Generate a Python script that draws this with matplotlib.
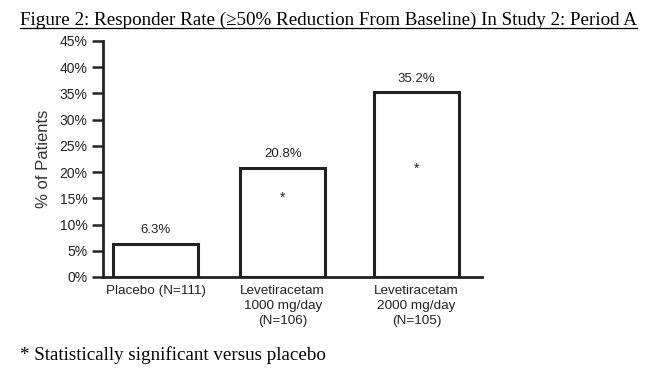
import matplotlib
matplotlib.use("Agg")
import matplotlib.pyplot as plt

categories = ["Placebo (N=111)", "Levetiracetam\n1000 mg/day\n(N=106)", "Levetiracetam\n2000 mg/day\n(N=105)"]
values = [6.3, 20.8, 35.2]
value_labels = ["6.3%", "20.8%", "35.2%"]
significant = [False, True, True]
star_levels = [None, 15.1, 20.6]
yticks = [0, 5, 10, 15, 20, 25, 30, 35, 40, 45]

plt.rcParams['font.family'] = ['Liberation Sans', 'DejaVu Sans']

fig = plt.figure(figsize=(6.58, 3.69), dpi=100)
W, H = 658, 369
ax = fig.add_axes([103 / W, 1 - 277 / H, 379 / W, (277 - 41) / H])

positions = [(155.5 - 103) / 379, (282.7 - 103) / 379, (416.5 - 103) / 379]
width = 85 / 379
ax.bar(positions, values, width=width, color='white', edgecolor='#222222', linewidth=2.2, zorder=3)

for p, v, lab in zip(positions, values, value_labels):
    ax.text(p, v + 1.5, lab, ha='center', va='bottom', fontsize=9.5, color='#222222')

for p, s, lv in zip(positions, significant, star_levels):
    if s:
        ax.text(p, lv, '*', ha='center', va='center', fontsize=10, color='#222222')

ax.set_xlim(0, 1)
ax.set_ylim(0, 45)
ax.set_yticks(yticks)
ax.set_yticklabels([f"{t}%" for t in yticks], fontsize=10, color='#222222')
ax.set_xticks(positions)
ax.set_xticklabels(categories, fontsize=9.7, color='#222222', linespacing=1.3)
ax.tick_params(axis='x', length=0, pad=6)
ax.tick_params(axis='y', length=8, width=1.8, color='#222222', pad=3)
for s in ['top', 'right']:
    ax.spines[s].set_visible(False)
for s in ['left', 'bottom']:
    ax.spines[s].set_linewidth(2)
    ax.spines[s].set_color('#222222')
ax.set_ylabel('% of Patients', fontsize=12, color='#333333', labelpad=6)

t = fig.text(20 / W, 1 - 20 / H, 'Figure 2: Responder Rate (\u226550% Reduction From Baseline) In Study 2: Period A',
             ha='left', va='center', fontsize=13.7, family=['Liberation Serif', 'DejaVu Serif'])
fig.canvas.draw()
bb = t.get_window_extent()
fig.add_artist(plt.Line2D([bb.x0 / W, bb.x1 / W], [(bb.y0 + 1) / H, (bb.y0 + 1) / H],
                          transform=fig.transFigure, color='black', linewidth=0.9))

fig.text(20 / W, 1 - 355 / H, '* Statistically significant versus placebo', ha='left', va='center',
         fontsize=13.7, family=['Liberation Serif', 'DejaVu Serif'])

fig.savefig('out.png', dpi=100)
